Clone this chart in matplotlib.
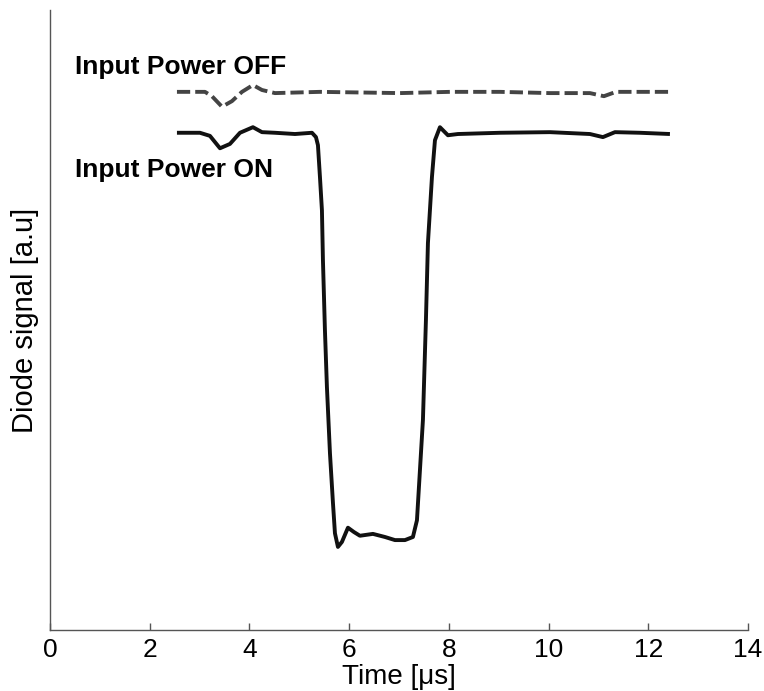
import matplotlib
matplotlib.use('Agg')
from matplotlib import pyplot as plt

# Diode signal with input power ON (solid black)
t_on = [2.547, 3.008, 3.209, 3.410, 3.610, 3.811, 4.071, 4.252, 4.513, 4.914,
        5.255, 5.335, 5.375, 5.415, 5.455, 5.475, 5.515, 5.555, 5.616, 5.676,
        5.716, 5.776, 5.856, 5.977, 6.097, 6.217, 6.478, 6.719, 6.920, 7.120,
        7.280, 7.361, 7.421, 7.481, 7.521, 7.541, 7.581, 7.662, 7.722, 7.822,
        7.982, 8.183, 9.025, 10.028, 10.830, 11.091, 11.332, 11.833, 12.435]
sig_on = [0.802, 0.802, 0.797, 0.777, 0.784, 0.802, 0.811, 0.803, 0.802, 0.800,
          0.802, 0.795, 0.782, 0.731, 0.677, 0.597, 0.484, 0.392, 0.285, 0.205,
          0.156, 0.134, 0.142, 0.165, 0.158, 0.152, 0.155, 0.150, 0.145, 0.145,
          0.150, 0.177, 0.258, 0.339, 0.447, 0.500, 0.624, 0.731, 0.790, 0.811,
          0.798, 0.800, 0.802, 0.803, 0.800, 0.795, 0.803, 0.802, 0.800]

# Diode signal with input power OFF (dashed grey)
t_off = [2.547, 3.109, 3.249, 3.450, 3.650, 3.851, 4.071, 4.252, 4.513, 5.415,
         7.020, 8.023, 9.025, 10.028, 10.830, 11.111, 11.352, 11.833, 12.475]
sig_off = [0.868, 0.868, 0.861, 0.844, 0.853, 0.868, 0.879, 0.871, 0.866, 0.868,
           0.866, 0.868, 0.868, 0.866, 0.866, 0.861, 0.868, 0.868, 0.868]

xticks = [0, 2, 4, 6, 8, 10, 12, 14]

plt.rcParams['font.family'] = ['Liberation Sans', 'DejaVu Sans']

fig = plt.figure(figsize=(7.64, 6.91), dpi=100)
ax = fig.add_axes([0.0654, 0.0883, 0.9136, 0.8972])

ax.plot(t_off, sig_off, color='#444444', linewidth=2.8, linestyle=(0, (3.4, 1.3)),
        dash_joinstyle='round')
ax.plot(t_on, sig_on, color='#111111', linewidth=2.8,
        solid_joinstyle='round', solid_capstyle='butt')

ax.text(0.5, 0.908, 'Input Power OFF', fontsize=19, fontweight='bold', va='center', ha='left')
ax.text(0.5, 0.742, 'Input Power ON', fontsize=19, fontweight='bold', va='center', ha='left')

ax.set_xlim(0, 14)
ax.set_ylim(0, 1)
ax.set_xticks(xticks)
ax.set_yticks([])

# Only left and bottom spines
for s in ['top', 'right']:
    ax.spines[s].set_visible(False)
for s in ['left', 'bottom']:
    ax.spines[s].set_color('#555555')
    ax.spines[s].set_linewidth(1.0)

ax.tick_params(axis='x', direction='in', length=5, width=1, color='#555555',
               labelsize=19, pad=6)

ax.set_xlabel('Time [μs]', fontsize=20, labelpad=1)
ax.set_ylabel('Diode signal [a.u]', fontsize=21, labelpad=8)

fig.savefig('out.png', dpi=100)
